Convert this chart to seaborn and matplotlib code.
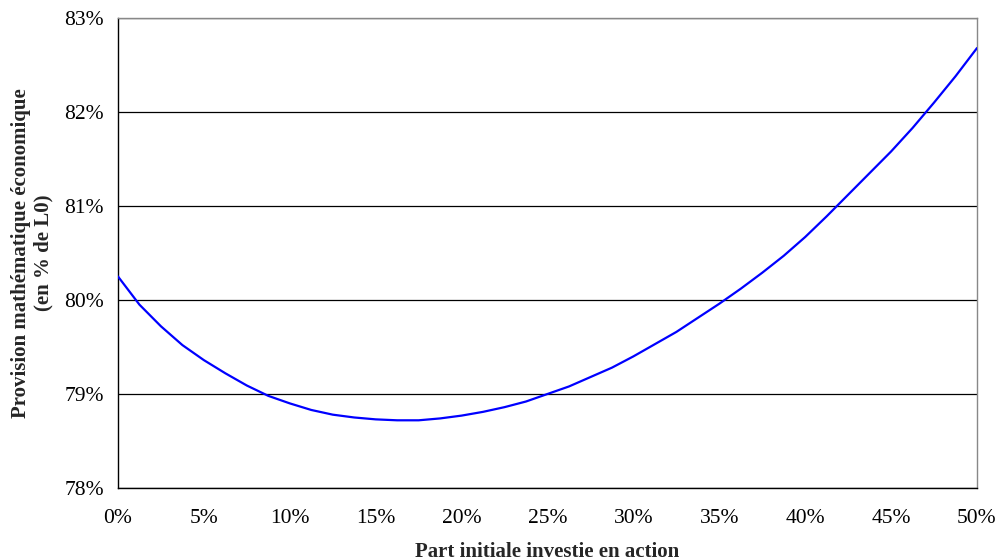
import matplotlib
matplotlib.use("Agg")
import matplotlib.pyplot as plt
import seaborn as sns
import pandas as pd
from matplotlib.ticker import FuncFormatter

# Data (percent)
part_action = [0, 1.25, 2.5, 3.75, 5, 6.25, 7.5, 8.75, 10, 11.25, 12.5, 13.75, 15, 16.25,
               17.5, 18.75, 20, 21.25, 22.5, 23.75, 25, 26.25, 27.5, 28.75, 30, 31.25,
               32.5, 33.75, 35, 36.25, 37.5, 38.75, 40, 41.25, 42.5, 43.75, 45, 46.25,
               47.5, 48.75, 50]
provision = [80.25, 79.95, 79.72, 79.52, 79.36, 79.22, 79.09, 78.98, 78.90, 78.83, 78.78,
             78.75, 78.73, 78.72, 78.72, 78.74, 78.77, 78.81, 78.86, 78.92, 79.00, 79.08,
             79.18, 79.28, 79.40, 79.53, 79.66, 79.81, 79.96, 80.12, 80.29, 80.47, 80.67,
             80.89, 81.12, 81.35, 81.58, 81.83, 82.10, 82.38, 82.68]
x_ticks = [0, 5, 10, 15, 20, 25, 30, 35, 40, 45, 50]
y_ticks = [78, 79, 80, 81, 82, 83]

df = pd.DataFrame({"x": part_action, "y": provision})

sns.set_style("white")
plt.rcParams["font.family"] = ["Liberation Serif", "DejaVu Serif"]

fig = plt.figure(figsize=(10, 5.6), dpi=100)
ax = fig.add_axes([0.118, 0.1286, 0.859, 0.8393])

for yv in y_ticks:
    ax.axhline(yv, color="black", linewidth=0.9, zorder=1)

sns.lineplot(data=df, x="x", y="y", ax=ax, color="#0000FF", linewidth=1.6, zorder=3)

ax.set_xlim(0, 50)
ax.set_ylim(78, 83)
ax.set_xticks(x_ticks)
ax.set_yticks(y_ticks)
ax.xaxis.set_major_formatter(FuncFormatter(lambda v, p: f"{v:.0f}%"))
ax.yaxis.set_major_formatter(FuncFormatter(lambda v, p: f"{v:.0f}%"))
ax.tick_params(axis="both", which="major", direction="out", length=6, width=1,
               color="black", labelsize=15.5, labelcolor="black")
ax.tick_params(axis="x", pad=9)
ax.tick_params(axis="y", pad=4)

for side in ["left", "bottom"]:
    ax.spines[side].set_color("black")
    ax.spines[side].set_linewidth(1.0)
for side in ["top", "right"]:
    ax.spines[side].set_color("#888888")
    ax.spines[side].set_linewidth(1.0)

ax.set_xlabel("Part initiale investie en action", fontsize=15, fontweight="bold", labelpad=10)
ax.set_ylabel("Provision mathématique économique\n(en % de L0)", fontsize=15,
              fontweight="bold", labelpad=8, linespacing=1.15)

fig.savefig("out.png", dpi=100)
